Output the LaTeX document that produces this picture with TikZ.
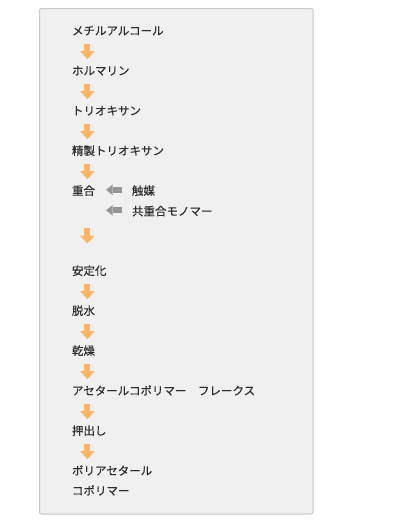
\documentclass[tikz,border=0pt]{standalone}
\usepackage{fontspec}
\newfontfamily\jp[FakeBold=0.35]{Noto Sans CJK JP}
\usetikzlibrary{arrows.meta}
\definecolor{boxfill}{RGB}{240,240,240}
\definecolor{boxline}{RGB}{200,200,200}
\definecolor{txt}{RGB}{45,45,45}
\definecolor{oarr}{RGB}{253,180,102}
\definecolor{garr}{RGB}{150,150,150}
\begin{document}
\begin{tikzpicture}[x=1pt,y=-1pt,
  lbl/.style={anchor=base west, inner sep=0pt, outer sep=0pt,
    font=\jp\fontsize{11.5}{20}\selectfont, text=txt},
  oarrow/.style={draw=oarr, line width=5.7pt,
    -{Triangle[length=8pt,width=14.7pt,line width=0pt,color=oarr]},
    shorten <=9.1pt, shorten >=15.9pt},
  garrow/.style={draw=garr, line width=6pt,
    -{Triangle[length=6.7pt,width=10.7pt,line width=0pt,color=garr]},
    shorten <=10pt, shorten >=11pt}]
\useasboundingbox (0,0) rectangle (400,528);
\draw[draw=boxline, fill=boxfill, rounded corners=2pt, line width=1pt]
  (39.5,8.5) rectangle (313,514);
\coordinate (ax) at (87.3,0);
\node[lbl] (t1) at (72,35) {メチルアルコール};
\node[lbl] (t2) at (72,75) {ホルマリン};
\node[lbl] (t3) at (72,115) {トリオキサン};
\node[lbl] (t4) at (72,155) {精製トリオキサン};
\node[lbl] (t5) at (72,195) {重合};
\node[lbl] (cat) at (132,195) {触媒};
\node[lbl] (co) at (132,215.5) {共重合モノマー};
\node[lbl] (t6) at (72,275) {安定化};
\node[lbl] (t7) at (72,315) {脱水};
\node[lbl] (t8) at (72,355) {乾燥};
\node[lbl] (t9) at (72,395) {アセタールコポリマー　フレークス};
\node[lbl] (t10) at (72,435) {押出し};
\node[lbl] (t11) at (72,475) {ポリアセタール};
\node[lbl] (t11b) at (72,495) {コポリマー};
\draw[oarrow] (t1.base -| ax) -- (t2.base -| ax);
\draw[oarrow] (t2.base -| ax) -- (t3.base -| ax);
\draw[oarrow] (t3.base -| ax) -- (t4.base -| ax);
\draw[oarrow] (t4.base -| ax) -- (t5.base -| ax);
\draw[oarrow, shorten <=33pt, shorten >=31.5pt] (t5.base -| ax) -- (t6.base -| ax);
\draw[oarrow] (t6.base -| ax) -- (t7.base -| ax);
\draw[oarrow] (t7.base -| ax) -- (t8.base -| ax);
\draw[oarrow] (t8.base -| ax) -- (t9.base -| ax);
\draw[oarrow] (t9.base -| ax) -- (t10.base -| ax);
\draw[oarrow] (t10.base -| ax) -- (t11.base -| ax);
\coordinate (g1) at ([yshift=5.2pt]cat.base west);
\coordinate (g2) at ([yshift=5.2pt]co.base west);
\coordinate (je) at (95,0);
\draw[garrow] (g1) -- (g1 -| je);
\draw[garrow] (g2) -- (g2 -| je);
\end{tikzpicture}
\end{document}
